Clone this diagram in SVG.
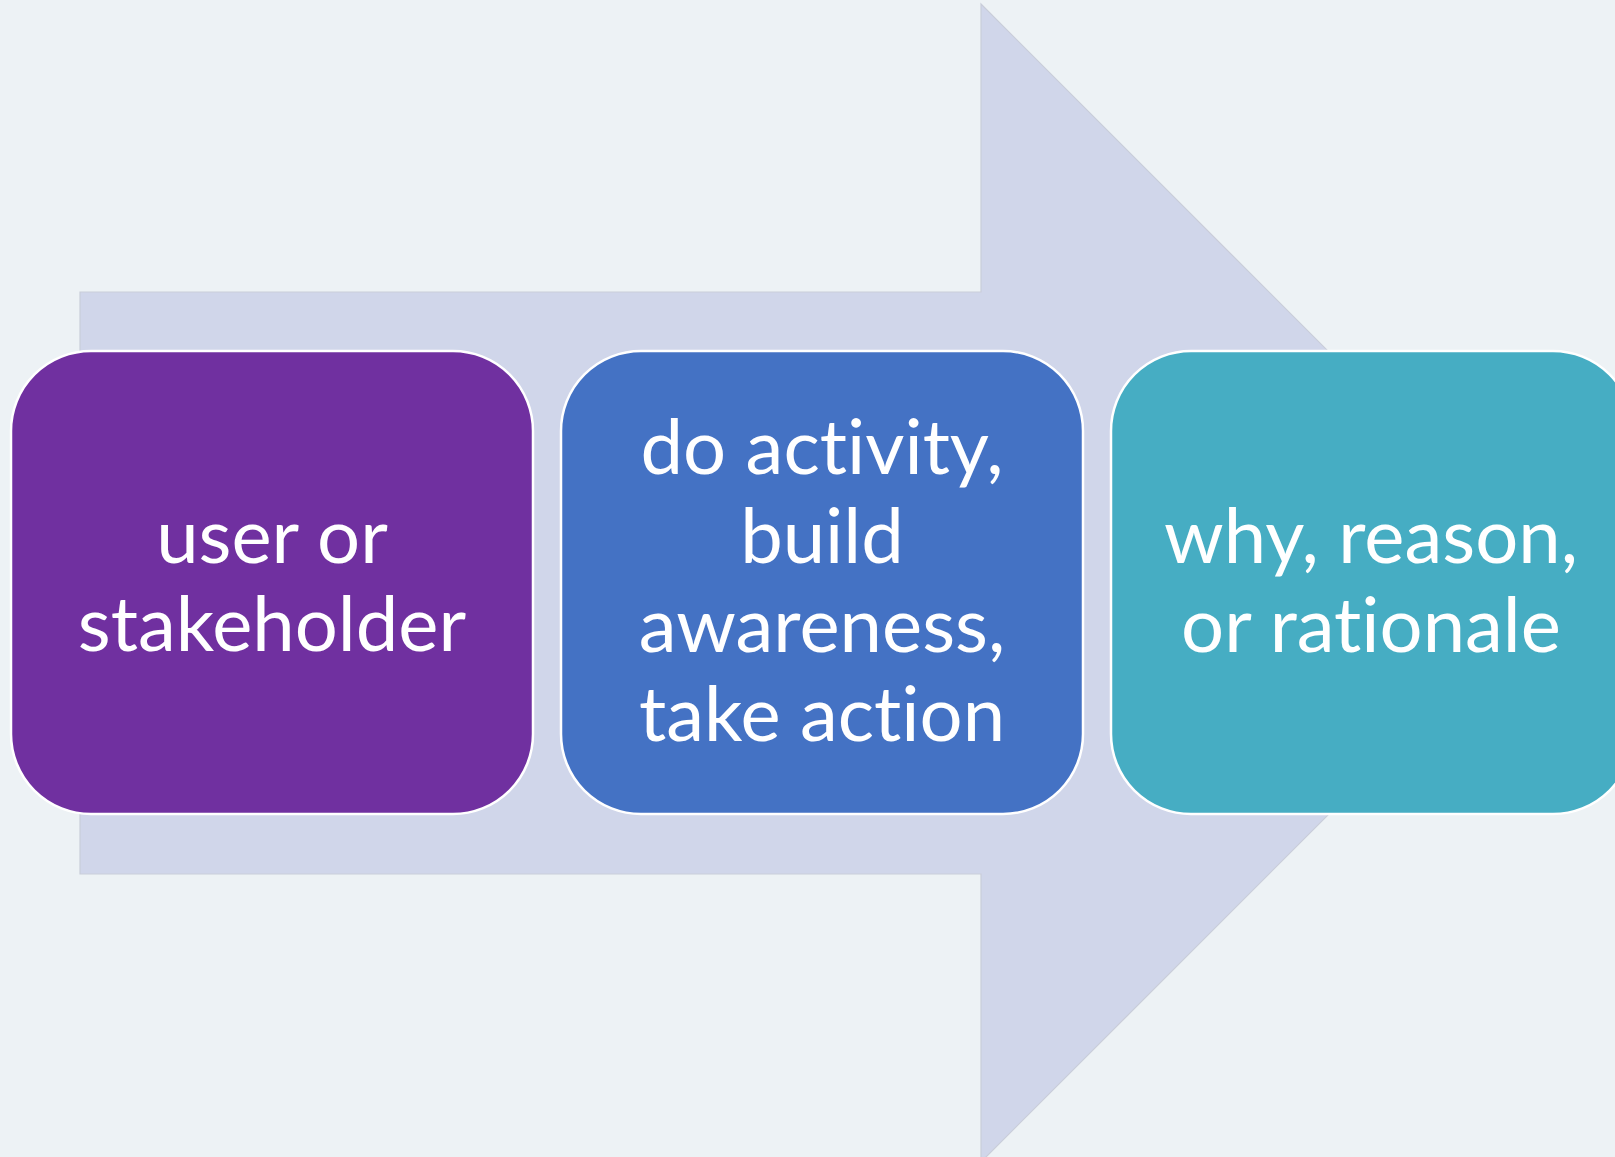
<svg xmlns="http://www.w3.org/2000/svg" width="1615" height="1157" viewBox="0 0 1615 1157">
  <style>
    .box { stroke: #ffffff; stroke-width: 2.5; }
    .label { font-family: Lato, "Open Sans", sans-serif; font-size: 76px; fill: #ffffff; text-anchor: middle; font-variant-ligatures: none; font-feature-settings: "liga" 0, "clig" 0; }
  </style>
  <rect x="0" y="0" width="1615" height="1157" fill="#EDF2F5"/>

  <!-- background block arrow -->
  <g id="arrow">
    <polygon points="80,292 981,292 981,4 1560,583 981,1162 981,874 80,874" fill="#D0D6EA" stroke="#C9CDD9" stroke-width="1.2"/>
  </g>

  <g id="node-user">
    <rect class="box" x="11" y="351" width="522" height="463" rx="80" ry="80" fill="#7030A0"/>
    <text class="label" x="272" y="563">user or</text>
    <text class="label" x="272" y="651">stakeholder</text>
  </g>

  <g id="node-activity">
    <rect class="box" x="561" y="351" width="522" height="463" rx="80" ry="80" fill="#4472C4"/>
    <text class="label" x="822" y="474">do activity,</text>
    <text class="label" x="822" y="563">build</text>
    <text class="label" x="822" y="652">awareness,</text>
    <text class="label" x="822" y="741">take action</text>
  </g>

  <g id="node-reason">
    <rect class="box" x="1111" y="351" width="522" height="463" rx="80" ry="80" fill="#46ADC3"/>
    <text class="label" x="1371" y="563">why, reason,</text>
    <text class="label" x="1371" y="652">or rationale</text>
  </g>

  <g id="connectors"/>
</svg>
